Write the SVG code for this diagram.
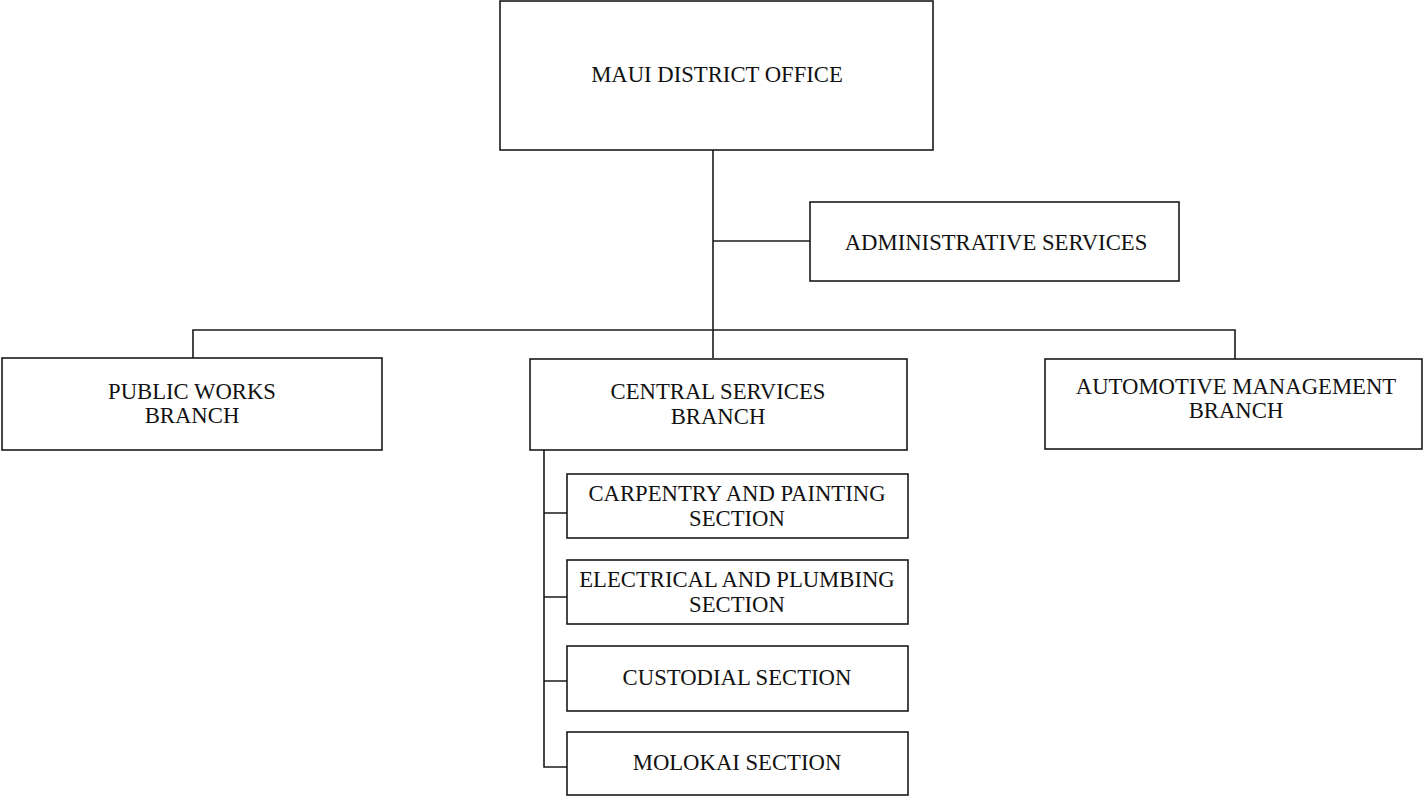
<svg xmlns="http://www.w3.org/2000/svg" width="1423" height="797" viewBox="0 0 1423 797">
<style>
.box{fill:#fff;stroke:#1a1a1a;stroke-width:1.6}
.ln{fill:none;stroke:#1a1a1a;stroke-width:1.6}
text{font-family:"Liberation Serif","Times New Roman",serif;font-size:22.7px;fill:#111;text-anchor:middle}
</style>
<rect width="1423" height="797" fill="#fff"/>
<g id="connectors">
<path class="ln" d="M713 150 V358"/>
<path class="ln" d="M713 241 H810"/>
<path class="ln" d="M193 358 V330 H1235 V359"/>
<path class="ln" d="M544 450 V767 H567"/>
<path class="ln" d="M544 513 H567 M544 597 H567 M544 681 H567"/>
</g>
<g id="maui"><rect class="box" x="500" y="1" width="433" height="149"/><text x="717" y="82">MAUI DISTRICT OFFICE</text></g>
<g id="admin"><rect class="box" x="810" y="202" width="369" height="79"/><text x="996" y="250">ADMINISTRATIVE SERVICES</text></g>
<g id="publicworks"><rect class="box" x="2" y="358" width="380" height="92"/><text x="192" y="399">PUBLIC WORKS</text><text x="192" y="423">BRANCH</text></g>
<g id="central"><rect class="box" x="530" y="359" width="377" height="91"/><text x="718" y="399">CENTRAL SERVICES</text><text x="718" y="424">BRANCH</text></g>
<g id="automotive"><rect class="box" x="1045" y="359" width="377" height="90"/><text x="1236" y="394">AUTOMOTIVE MANAGEMENT</text><text x="1236" y="418">BRANCH</text></g>
<g id="carpentry"><rect class="box" x="567" y="474" width="341" height="64"/><text x="737" y="501">CARPENTRY AND PAINTING</text><text x="737" y="526">SECTION</text></g>
<g id="electrical"><rect class="box" x="567" y="560" width="341" height="64"/><text x="737" y="587">ELECTRICAL AND PLUMBING</text><text x="737" y="612">SECTION</text></g>
<g id="custodial"><rect class="box" x="567" y="646" width="341" height="65"/><text x="737" y="685">CUSTODIAL SECTION</text></g>
<g id="molokai"><rect class="box" x="567" y="732" width="341" height="63"/><text x="737" y="770">MOLOKAI SECTION</text></g>
</svg>
